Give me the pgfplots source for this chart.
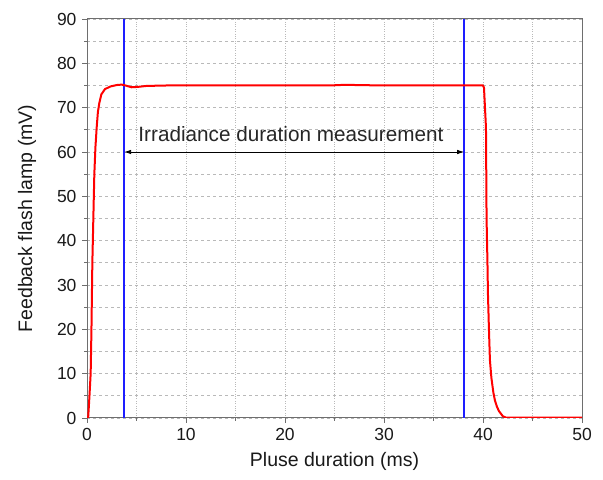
\documentclass[border=0pt]{standalone}
\usepackage{pgfplots}
\pgfplotsset{compat=1.18}
\usepackage{fontspec}
\setmainfont{Liberation Sans}
\usetikzlibrary{arrows.meta}
\definecolor{axgray}{RGB}{110,110,110}
\definecolor{gridgray}{RGB}{185,185,185}
\definecolor{lineblue}{RGB}{30,30,255}
\definecolor{linered}{RGB}{255,0,0}
\begin{document}
\begin{tikzpicture}
\begin{axis}[
  scale only axis,
  width=495pt, height=399pt,
  xmin=0, xmax=50, ymin=0, ymax=90,
  xtick={0,10,20,30,40,50},
  ytick={0,10,20,30,40,50,60,70,80,90},
  minor tick num=1,
  tick align=outside,
  xtick pos=bottom, ytick pos=left,
  major tick length=5pt, minor tick length=3pt,
  tick style={axgray, line width=0.8pt},
  axis line style={axgray, line width=1pt},
  grid=both,
  major x grid style={gridgray, dotted, line width=0.6pt},
  minor x grid style={gridgray, dotted, line width=0.6pt},
  major y grid style={gridgray, dashed, line width=0.7pt},
  minor y grid style={gridgray, dashed, line width=0.7pt},
  /pgf/number format/assume math mode=true,
  ticklabel style={font=\fontsize{17.5}{21}\selectfont, text=black!90},
  xticklabel style={yshift=-2pt},
  yticklabel style={xshift=-2pt},
  xlabel={Pluse duration (ms)},
  ylabel={Feedback flash lamp (mV)},
  label style={font=\fontsize{19.5}{23}\selectfont, text=black!90},
  xlabel style={yshift=-5pt},
  ylabel style={yshift=14pt},
  clip=true,
]
\addplot[draw=lineblue, line width=1.6pt] coordinates {(3.75,0) (3.75,90)};
\addplot[draw=lineblue, line width=1.6pt] coordinates {(38.1,0) (38.1,90)};
\addplot[linered, line width=2pt, line join=round] coordinates {
(0.1,0) (0.13,0.5) (0.25,5) (0.37,10) (0.45,20) (0.54,35) (0.64,45) (0.74,55)
(0.85,61) (0.98,65.6) (1.1,69) (1.24,71) (1.45,73) (1.82,74.2) (2.4,74.8)
(3.0,75.1) (3.5,75.2) (3.9,75.0) (4.5,74.6) (5.2,74.7) (6.0,74.9) (8,75)
(15,75) (25,75.05) (26,75.15) (30,75) (40,75) (40.1,74.5) (40.2,70)
(40.3,65.5) (40.36,45) (40.45,35) (40.5,28) (40.6,20) (40.7,13) (40.85,9)
(41.05,5.7) (41.2,4) (41.4,2.6) (41.6,1.6) (41.8,1) (42.0,0.4) (42.3,0.1) (50,0.1)
};
\draw[{Latex[length=7pt,width=4.5pt]}-{Latex[length=7pt,width=4.5pt]}, line width=0.8pt, black]
  (axis cs:3.75,60) -- (axis cs:38.1,60);
\node[font=\fontsize{20.7}{24}\selectfont, text=black!85] at (axis cs:20.6,64.0) {Irradiance duration measurement};
\end{axis}
\pgfresetboundingbox
\path (current axis.south west) ++(-87pt,-62pt) coordinate (bl);
\path (current axis.north east) ++(21pt,19pt) coordinate (tr);
\path[use as bounding box] (bl) rectangle (tr);
\end{tikzpicture}
\end{document}
